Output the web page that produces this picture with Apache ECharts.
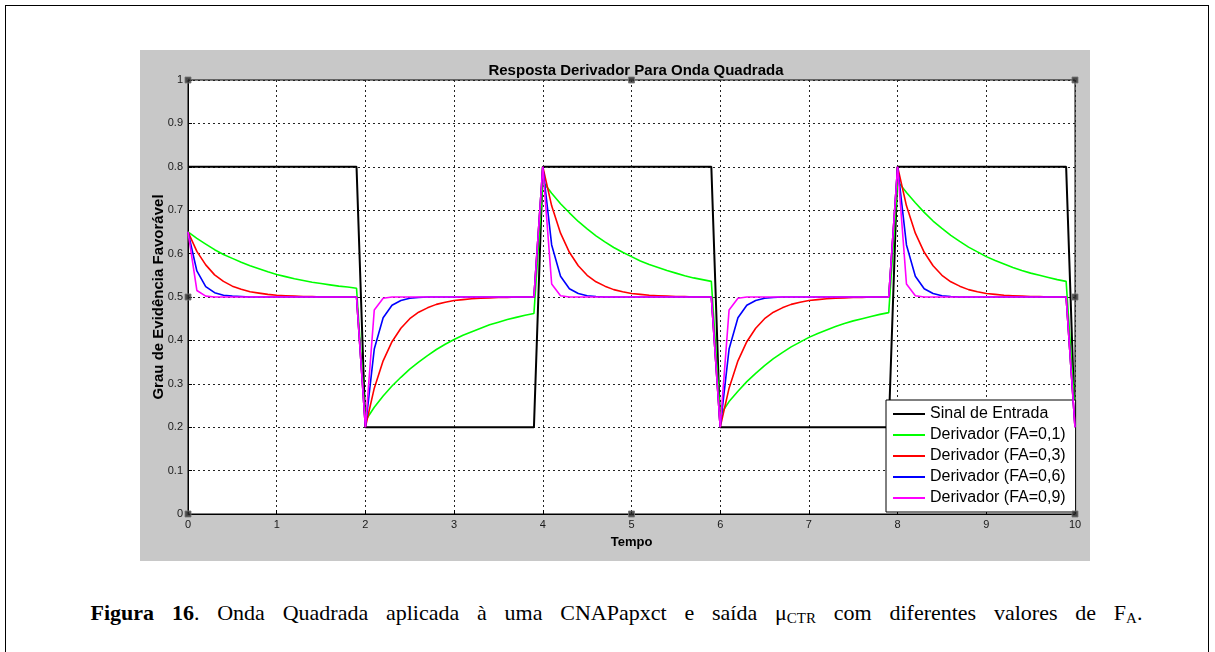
<!DOCTYPE html>
<html>
<head>
<meta charset="utf-8">
<script src="https://cdn.jsdelivr.net/npm/echarts@6/dist/echarts.min.js"></script>
<style>
  html, body { margin: 0; padding: 0; background: #fff; }
  #moldura {
    position: absolute; left: 5px; top: 5px; width: 1202px; height: 660px;
    border: 1px solid #000;
  }
  #figura {
    position: absolute; left: 140px; top: 50px; width: 950px; height: 511px;
    background: #c8c8c8;
  }
  #legenda {
    position: absolute; left: 9px; top: 600px; width: 1215px;
    text-align: center; font-family: 'Liberation Serif', 'DejaVu Serif', serif;
    font-size: 22px; color: #000; word-spacing: 12.3px;
  }
  #legenda sub { font-size: 15px; vertical-align: -3px; }
</style>
</head>
<body>
<div id="moldura"></div>
<div id="figura"></div>
<div id="legenda"><b>Figura 16</b>. Onda Quadrada aplicada à uma CNAPapxct e saída μ<sub>CTR</sub> com diferentes valores de F<sub>A</sub>.</div>
<script>
// tempo (amostras a cada 0.1)
const tempo = [
  0, 0.1, 0.2, 0.3, 0.4, 0.5, 0.6, 0.7, 0.8, 0.9, 1, 1.1, 1.2, 1.3, 1.4, 1.5, 1.6, 1.7, 1.8, 1.9,
  2, 2.1, 2.2, 2.3, 2.4, 2.5, 2.6, 2.7, 2.8, 2.9, 3, 3.1, 3.2, 3.3, 3.4, 3.5, 3.6, 3.7, 3.8, 3.9,
  4, 4.1, 4.2, 4.3, 4.4, 4.5, 4.6, 4.7, 4.8, 4.9, 5, 5.1, 5.2, 5.3, 5.4, 5.5, 5.6, 5.7, 5.8, 5.9,
  6, 6.1, 6.2, 6.3, 6.4, 6.5, 6.6, 6.7, 6.8, 6.9, 7, 7.1, 7.2, 7.3, 7.4, 7.5, 7.6, 7.7, 7.8, 7.9,
  8, 8.1, 8.2, 8.3, 8.4, 8.5, 8.6, 8.7, 8.8, 8.9, 9, 9.1, 9.2, 9.3, 9.4, 9.5, 9.6, 9.7, 9.8, 9.9,
  10
]

const sinalEntrada = [
  0.8, 0.8, 0.8, 0.8, 0.8, 0.8, 0.8, 0.8, 0.8, 0.8, 0.8, 0.8, 0.8, 0.8, 0.8, 0.8, 0.8, 0.8, 0.8, 0.8,
  0.2, 0.2, 0.2, 0.2, 0.2, 0.2, 0.2, 0.2, 0.2, 0.2, 0.2, 0.2, 0.2, 0.2, 0.2, 0.2, 0.2, 0.2, 0.2, 0.2,
  0.8, 0.8, 0.8, 0.8, 0.8, 0.8, 0.8, 0.8, 0.8, 0.8, 0.8, 0.8, 0.8, 0.8, 0.8, 0.8, 0.8, 0.8, 0.8, 0.8,
  0.2, 0.2, 0.2, 0.2, 0.2, 0.2, 0.2, 0.2, 0.2, 0.2, 0.2, 0.2, 0.2, 0.2, 0.2, 0.2, 0.2, 0.2, 0.2, 0.2,
  0.8, 0.8, 0.8, 0.8, 0.8, 0.8, 0.8, 0.8, 0.8, 0.8, 0.8, 0.8, 0.8, 0.8, 0.8, 0.8, 0.8, 0.8, 0.8, 0.8,
  0.2
]

const derivFA01 = [
  0.65, 0.635, 0.622, 0.609, 0.598, 0.589, 0.580, 0.572, 0.565, 0.558, 0.552, 0.547, 0.542, 0.538, 0.534, 0.531, 0.528, 0.525, 0.523, 0.520,
  0.215, 0.246, 0.272, 0.295, 0.315, 0.334, 0.350, 0.365, 0.379, 0.391, 0.402, 0.412, 0.420, 0.428, 0.436, 0.442, 0.448, 0.453, 0.458, 0.462,
  0.766, 0.739, 0.715, 0.694, 0.674, 0.657, 0.641, 0.627, 0.614, 0.603, 0.593, 0.583, 0.575, 0.568, 0.561, 0.555, 0.549, 0.544, 0.540, 0.536,
  0.228, 0.259, 0.283, 0.305, 0.324, 0.342, 0.358, 0.372, 0.385, 0.396, 0.407, 0.416, 0.424, 0.432, 0.439, 0.445, 0.450, 0.455, 0.460, 0.464,
  0.767, 0.741, 0.717, 0.695, 0.675, 0.658, 0.642, 0.628, 0.615, 0.604, 0.593, 0.584, 0.576, 0.568, 0.561, 0.555, 0.550, 0.545, 0.540, 0.536,
  0.232
]

const derivFA03 = [
  0.65, 0.605, 0.574, 0.551, 0.536, 0.525, 0.518, 0.512, 0.509, 0.506, 0.504, 0.503, 0.502, 0.501, 0.501, 0.5, 0.5, 0.5, 0.5, 0.5,
  0.2, 0.29, 0.353, 0.397, 0.428, 0.450, 0.465, 0.475, 0.483, 0.488, 0.492, 0.494, 0.496, 0.497, 0.498, 0.499, 0.499, 0.5, 0.5, 0.5,
  0.8, 0.71, 0.647, 0.603, 0.572, 0.550, 0.535, 0.525, 0.517, 0.512, 0.508, 0.506, 0.504, 0.503, 0.502, 0.501, 0.501, 0.5, 0.5, 0.5,
  0.2, 0.29, 0.353, 0.397, 0.428, 0.450, 0.465, 0.475, 0.483, 0.488, 0.492, 0.494, 0.496, 0.497, 0.498, 0.499, 0.499, 0.5, 0.5, 0.5,
  0.8, 0.71, 0.647, 0.603, 0.572, 0.550, 0.535, 0.525, 0.517, 0.512, 0.508, 0.506, 0.504, 0.503, 0.502, 0.501, 0.501, 0.5, 0.5, 0.5,
  0.2
]

const derivFA06 = [
  0.65, 0.56, 0.524, 0.51, 0.504, 0.502, 0.501, 0.5, 0.5, 0.5, 0.5, 0.5, 0.5, 0.5, 0.5, 0.5, 0.5, 0.5, 0.5, 0.5,
  0.2, 0.38, 0.452, 0.481, 0.492, 0.497, 0.499, 0.5, 0.5, 0.5, 0.5, 0.5, 0.5, 0.5, 0.5, 0.5, 0.5, 0.5, 0.5, 0.5,
  0.8, 0.62, 0.548, 0.519, 0.508, 0.503, 0.501, 0.5, 0.5, 0.5, 0.5, 0.5, 0.5, 0.5, 0.5, 0.5, 0.5, 0.5, 0.5, 0.5,
  0.2, 0.38, 0.452, 0.481, 0.492, 0.497, 0.499, 0.5, 0.5, 0.5, 0.5, 0.5, 0.5, 0.5, 0.5, 0.5, 0.5, 0.5, 0.5, 0.5,
  0.8, 0.62, 0.548, 0.519, 0.508, 0.503, 0.501, 0.5, 0.5, 0.5, 0.5, 0.5, 0.5, 0.5, 0.5, 0.5, 0.5, 0.5, 0.5, 0.5,
  0.2
]

const derivFA09 = [
  0.65, 0.515, 0.502, 0.5, 0.5, 0.5, 0.5, 0.5, 0.5, 0.5, 0.5, 0.5, 0.5, 0.5, 0.5, 0.5, 0.5, 0.5, 0.5, 0.5,
  0.2, 0.47, 0.497, 0.5, 0.5, 0.5, 0.5, 0.5, 0.5, 0.5, 0.5, 0.5, 0.5, 0.5, 0.5, 0.5, 0.5, 0.5, 0.5, 0.5,
  0.8, 0.53, 0.503, 0.5, 0.5, 0.5, 0.5, 0.5, 0.5, 0.5, 0.5, 0.5, 0.5, 0.5, 0.5, 0.5, 0.5, 0.5, 0.5, 0.5,
  0.2, 0.47, 0.497, 0.5, 0.5, 0.5, 0.5, 0.5, 0.5, 0.5, 0.5, 0.5, 0.5, 0.5, 0.5, 0.5, 0.5, 0.5, 0.5, 0.5,
  0.8, 0.53, 0.503, 0.5, 0.5, 0.5, 0.5, 0.5, 0.5, 0.5, 0.5, 0.5, 0.5, 0.5, 0.5, 0.5, 0.5, 0.5, 0.5, 0.5,
  0.2
]

// marcadores de seleção do eixo (quadradinhos do MATLAB)
const alcasX = [0, 5, 10, 0, 10, 0, 5, 10]
const alcasY = [1, 1, 1, 0.5, 0.5, 0, 0, 0]

const nomes = ['Sinal de Entrada', 'Derivador (FA=0,1)', 'Derivador (FA=0,3)', 'Derivador (FA=0,6)', 'Derivador (FA=0,9)']
const cores = ['#000000', '#00ff00', '#ff0000', '#0000ff', '#ff00ff']
const larguras = [2, 1.6, 1.6, 1.6, 1.6]
const valores = [sinalEntrada, derivFA01, derivFA03, derivFA06, derivFA09]

const chart = echarts.init(document.getElementById('figura'))

const series = valores.map((v, i) => ({
  name: nomes[i],
  type: 'line',
  data: tempo.map((t, k) => [t, v[k]]),
  symbol: 'none',
  color: cores[i],
  lineStyle: { color: cores[i], width: larguras[i] },
  z: 2 + i
}))
series.push({
  type: 'scatter',
  data: alcasX.map((x, k) => [x, alcasY[k]]),
  symbol: 'rect',
  symbolSize: 6,
  itemStyle: { color: '#2a2a2a', borderColor: '#777', borderWidth: 1 },
  silent: true,
  z: 10
})

const fonte = 'Arial, Liberation Sans, sans-serif'
const eixoTexto = { color: '#1a1a1a', fontFamily: fonte, fontSize: 11 }

chart.setOption({
  animation: false,
  title: {
    text: 'Resposta Derivador Para Onda Quadrada',
    left: 491,
    textAlign: 'center',
    top: 8,
    textStyle: { fontFamily: fonte, fontSize: 15, fontWeight: 'bold', color: '#000' }
  },
  grid: {
    left: 48,
    top: 30,
    width: 887,
    height: 434,
    outerBoundsMode: 'none',
    show: true,
    backgroundColor: '#fff',
    borderColor: '#000',
    borderWidth: 1
  },
  legend: {
    data: nomes,
    orient: 'vertical',
    left: 746,
    top: 350,
    backgroundColor: '#fff',
    borderColor: '#000',
    borderWidth: 1,
    borderRadius: 0,
    padding: [5, 10, 5, 7],
    icon: 'rect',
    itemWidth: 32,
    itemHeight: 2,
    itemGap: 3,
    textStyle: { fontFamily: fonte, fontSize: 16, color: '#000', lineHeight: 18 }
  },
  xAxis: {
    type: 'value',
    min: 0,
    max: 10,
    interval: 1,
    name: 'Tempo',
    nameLocation: 'middle',
    nameGap: 22,
    nameMoveOverlap: false,
    nameTextStyle: { fontFamily: fonte, fontSize: 13, fontWeight: 'bold', color: '#000' },
    axisLine: { lineStyle: { color: '#000', width: 1 } },
    axisTick: { inside: true, length: 4, lineStyle: { color: '#000' } },
    axisLabel: Object.assign({ margin: 5 }, eixoTexto),
    splitLine: { show: true, lineStyle: { color: '#222', type: [2, 3], width: 1 } }
  },
  yAxis: {
    type: 'value',
    min: 0,
    max: 1,
    interval: 0.1,
    name: 'Grau de Evidência Favorável',
    nameLocation: 'middle',
    nameGap: 22,
    nameMoveOverlap: false,
    nameTextStyle: { fontFamily: fonte, fontSize: 15, fontWeight: 'bold', color: '#000' },
    axisLine: { show: true, lineStyle: { color: '#000', width: 1 } },
    axisTick: { show: true, inside: true, length: 4, lineStyle: { color: '#000' } },
    axisLabel: Object.assign({ margin: 5 }, eixoTexto),
    splitLine: { show: true, lineStyle: { color: '#222', type: [2, 3], width: 1 } }
  },
  series: series
})
</script>
</body>
</html>
